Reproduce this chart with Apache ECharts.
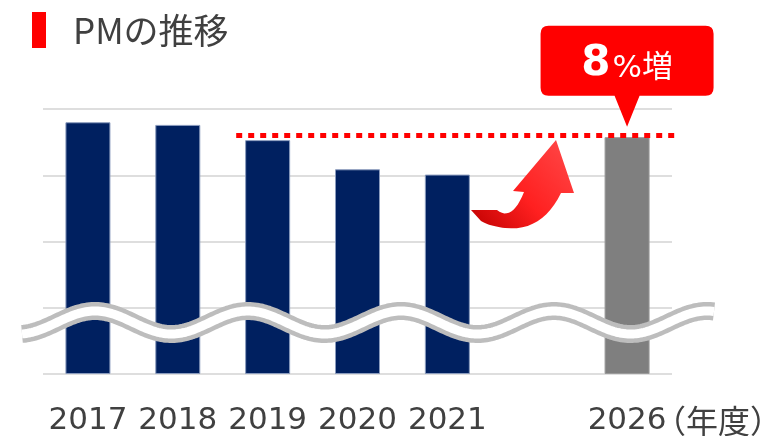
<!DOCTYPE html>
<html>
<head>
<meta charset="utf-8">
<script src="https://cdn.jsdelivr.net/npm/echarts@6/dist/echarts.min.js"></script>
<style>
  html, body { margin: 0; padding: 0; background: #ffffff; }
  #chart { width: 769px; height: 436px; }
</style>
</head>
<body>
<div id="chart"></div>
<script>
// Fiscal years on the category axis (one empty slot between 2021 and 2026)
const categories = ['2017', '2018', '2019', '2020', '2021', '', '2026'];
// PM results (navy) and the 2026 plan (gray), in axis units above the break
const actualPM = [3.80, 3.76, 3.53, 3.09, 3.01, null, null];
const planPM = [null, null, null, null, null, null, 3.575];
// Level of the dotted target line and its horizontal span (category index units)
const targetLevel = 3.60;
const targetSpan = [1.65, 6.6];
// Callout text
const calloutValue = '8';
const calloutUnit = '%増';
const yearUnit = '（年度）';

const FONT = '"Noto Sans CJK JP", "Noto Sans", sans-serif';
const NUMFONT = '"DejaVu Sans", "Noto Sans CJK JP", sans-serif';
const chart = echarts.init(document.getElementById('chart'), null, { renderer: 'canvas' });

// Wavy "axis break" band drawn across the lower part of the plot
function wavePoints() {
  const pts = [];
  const crestX = 95, period = 153, midY = 322.5, amp = 11.5;
  for (let x = 22; x <= 714; x += 2) {
    pts.push([x, midY - amp * Math.cos((x - crestX) / period * 2 * Math.PI)]);
  }
  return pts;
}
const wave = wavePoints();

// Outline of the curved arrow: straight segments and quadratic curves
function arrowOutline() {
  const pts = [];
  let cur = [471, 210];
  pts.push(cur);
  const lineTo = (p) => { pts.push(p); cur = p; };
  const quadTo = (c, p) => {
    const s = cur;
    for (let i = 1; i <= 12; i++) {
      const t = i / 12, u = 1 - t;
      pts.push([u * u * s[0] + 2 * u * t * c[0] + t * t * p[0], u * u * s[1] + 2 * u * t * c[1] + t * t * p[1]]);
    }
    cur = p;
  };
  lineTo([497, 210]);
  quadTo([512, 222], [524, 192]);
  lineTo([513, 191]);
  lineTo([556, 140]);
  lineTo([574, 193]);
  lineTo([561, 193]);
  quadTo([542, 232], [505, 228]);
  quadTo([489, 226], [481, 221]);
  return pts;
}

// Balloon shape: rounded box with a pointer at the bottom
const balloonPath = 'path://M8,0 H165 Q173,0 173,8 V62 Q173,70 165,70 H99 L86.5,101 L74,70 H8 Q0,70 0,62 V8 Q0,0 8,0 Z';

const option = {
  backgroundColor: '#ffffff',
  animation: false,
  title: {
    text: 'PMの推移',
    left: 68,
    top: 8,
    textStyle: { fontFamily: FONT, fontSize: 35, fontWeight: 'normal', color: '#404040' }
  },
  grid: { left: 43, right: 97, top: 109, bottom: 60 },
  xAxis: [
    {
      type: 'category',
      data: categories,
      axisLine: { show: false },
      axisTick: { show: false },
      axisLabel: { fontFamily: NUMFONT, fontSize: 31, color: '#404040', margin: 31, interval: 0 }
    },
    {
      type: 'value',
      min: -0.5,
      max: 6.5,
      show: false
    }
  ],
  yAxis: {
    type: 'value',
    min: 0,
    max: 4,
    interval: 1,
    axisLabel: { show: false },
    axisLine: { show: false },
    axisTick: { show: false },
    splitLine: { show: true, lineStyle: { color: '#dedede', width: 2 } }
  },
  series: [
    {
      type: 'bar',
      data: actualPM,
      barWidth: 45,
      barGap: '-100%',
      itemStyle: { color: '#002060', borderColor: '#8a9bbd', borderWidth: 1 },
      z: 2
    },
    {
      type: 'bar',
      data: planPM,
      barWidth: 45,
      barGap: '-100%',
      itemStyle: { color: '#7f7f7f', borderColor: '#9a9a9a', borderWidth: 1 },
      z: 2,
      markPoint: {
        symbol: balloonPath,
        symbolSize: [173, 101],
        symbolKeepAspect: false,
        symbolOffset: [0, -59.2],
        itemStyle: { color: '#ff0000' },
        label: {
          show: true,
          position: 'inside',
          offset: [0, -14],
          formatter: () => '{a|' + calloutValue + '}{b|' + calloutUnit + '}',
          rich: {
            a: { fontFamily: NUMFONT, fontSize: 42, fontWeight: 'bold', color: '#ffffff', lineHeight: 46, verticalAlign: 'bottom' },
            b: { fontFamily: NUMFONT, fontSize: 31, color: '#ffffff', lineHeight: 46, verticalAlign: 'bottom', padding: [0, 0, 1, 2] }
          }
        },
        data: [{ coord: ['2026', targetLevel] }],
        z: 10
      }
    },
    {
      type: 'line',
      xAxisIndex: 1,
      data: [[targetSpan[0], targetLevel], [targetSpan[1], targetLevel]],
      showSymbol: false,
      clip: false,
      lineStyle: { color: '#ff0000', width: 5, type: [6, 6], cap: 'butt' },
      z: 5
    }
  ],
  graphic: [
    // red marker beside the title
    { type: 'rect', shape: { x: 32, y: 12, width: 14, height: 36 }, style: { fill: '#ff0000' }, z: 10 },
    // unit after the last year label
    {
      type: 'text',
      style: { x: 654, y: 405, text: yearUnit, font: '32px ' + FONT, fill: '#404040', textVerticalAlign: 'top' },
      z: 10
    },
    // break band: gray outline with white core
    { type: 'polyline', shape: { points: wave }, style: { stroke: '#bdbdbd', lineWidth: 18, fill: null, lineCap: 'butt', lineJoin: 'round' }, z: 20 },
    { type: 'polyline', shape: { points: wave }, style: { stroke: '#ffffff', lineWidth: 9, fill: null, lineCap: 'butt', lineJoin: 'round' }, z: 21 },
    // curved up-arrow
    {
      type: 'polygon',
      shape: { points: arrowOutline() },
      style: {
        fill: {
          type: 'linear', x: 0, y: 1, x2: 1, y2: 0,
          colorStops: [
            { offset: 0, color: '#c00000' },
            { offset: 0.45, color: '#ff2020' },
            { offset: 1, color: '#ff4a4a' }
          ]
        }
      },
      z: 15
    }
  ]
};

chart.setOption(option);
</script>
</body>
</html>
